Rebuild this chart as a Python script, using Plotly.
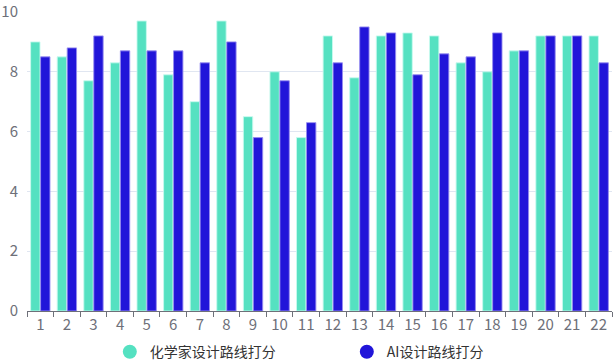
import plotly.graph_objects as go

categories = [str(i) for i in range(1, 23)]
chemist_scores = [9.0, 8.5, 7.7, 8.3, 9.7, 7.9, 7.0, 9.7, 6.5, 8.0, 5.8,
                  9.2, 7.8, 9.2, 9.3, 9.2, 8.3, 8.0, 8.7, 9.2, 9.2, 9.2]
ai_scores = [8.5, 8.8, 9.2, 8.7, 8.7, 8.7, 8.3, 9.0, 5.8, 7.7, 6.3,
             8.3, 9.5, 9.3, 7.9, 8.6, 8.5, 9.3, 8.7, 9.2, 9.2, 8.3]
series_names = ["化学家设计路线打分", "AI设计路线打分"]
colors = ["#55e1c1", "#2115d9"]
edge_colors = ["rgba(200,250,238,0.9)", "rgba(150,140,240,0.9)"]

fig = go.Figure()
for name, vals, c, ec in zip(series_names, [chemist_scores, ai_scores], colors, edge_colors):
    fig.add_trace(go.Bar(x=categories, y=vals, name=name, marker_color=c,
                         marker_line=dict(color=ec, width=1), showlegend=False))
for name, c in zip(series_names, colors):
    fig.add_trace(go.Scatter(x=[None], y=[None], mode="markers", name=name,
                             marker=dict(symbol="circle", size=14, color=c)))

fig.update_layout(
    width=616, height=360,
    margin=dict(l=27, r=4, t=12, b=49, autoexpand=False),
    paper_bgcolor="white", plot_bgcolor="white",
    barmode="group", bargap=0.25, bargroupgap=0.06,
    font=dict(family="Noto Sans CJK SC, Noto Sans, sans-serif", size=14, color="#6e7079"),
    legend=dict(orientation="h", x=0.563, xanchor="center", xref="container",
                y=0.022, yanchor="middle", yref="container",
                entrywidth=192, entrywidthmode="pixels",
                font=dict(size=14, color="#333333")),
    showlegend=True,
)
fig.update_xaxes(type="category", tickson="boundaries", ticks="outside", ticklen=5,
                 tickcolor="#6e7079", showline=True, linecolor="#6e7079", linewidth=1,
                 showgrid=False, automargin=False, tickfont=dict(size=15, color="#6e7079"))
fig.update_yaxes(range=[0, 10], dtick=2, showgrid=True, gridcolor="#e0e6f1", gridwidth=1,
                 zeroline=False, showline=False, ticks="", ticklabelstandoff=8,
                 automargin=False, tickfont=dict(size=15, color="#6e7079"))

fig.write_html("out.html", config={"displayModeBar": False},
               post_script="document.body.style.margin='0';")
